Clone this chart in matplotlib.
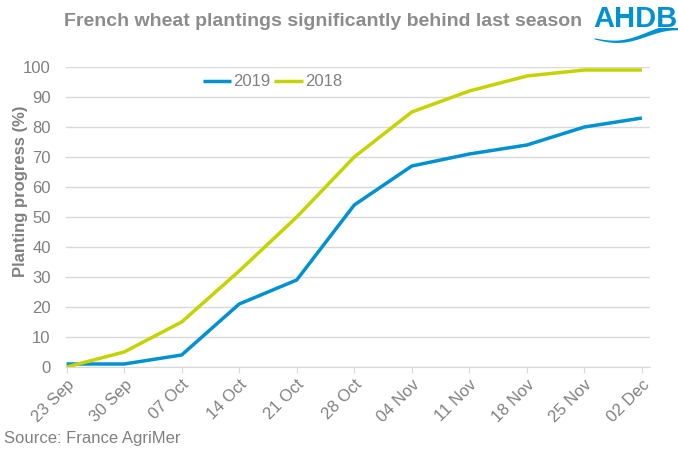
import matplotlib
matplotlib.use("Agg")
import matplotlib.pyplot as plt
import numpy as np

categories = ["23 Sep", "30 Sep", "07 Oct", "14 Oct", "21 Oct", "28 Oct",
              "04 Nov", "11 Nov", "18 Nov", "25 Nov", "02 Dec"]
s2019 = [1, 1, 4, 21, 29, 54, 67, 71, 74, 80, 83]
s2018 = [0, 5, 15, 32, 50, 70, 85, 92, 97, 99, 99]
yticks = [0, 10, 20, 30, 40, 50, 60, 70, 80, 90, 100]

plt.rcParams['font.family'] = ['Liberation Sans', 'DejaVu Sans']
gray = '#808080'
fig = plt.figure(figsize=(6.78, 4.53), dpi=100)
ax = fig.add_axes([66/678, 1-367/453, (650-66)/678, 300/453])
x = np.arange(len(categories))
ax.plot(x, s2019, color='#0091d2', lw=2.5, label='2019', solid_capstyle='butt')
ax.plot(x, s2018, color='#c5d400', lw=2.5, label='2018', solid_capstyle='butt')
ax.set_xlim(-0.01, 10.14)
ax.set_ylim(0, 100)
ax.set_yticks(yticks)
ax.set_xticks(x)
ax.set_xticklabels(categories, rotation=45, ha='right', rotation_mode='anchor')
ax.tick_params(axis='y', length=0, labelsize=12, colors=gray, pad=11)
ax.tick_params(axis='x', length=4, color='#d9d9d9', labelsize=12, colors=gray, pad=3)
ax.grid(axis='y', color='#d9d9d9', lw=1)
ax.set_axisbelow(True)
for s in ['top', 'right', 'left']:
    ax.spines[s].set_visible(False)
ax.spines['bottom'].set_color('#d9d9d9')
ax.set_ylabel('Planting progress (%)', fontsize=12, fontweight='bold', color=gray)
ax.yaxis.set_label_coords(-0.065, 0.585)
leg = ax.legend(loc='center left', bbox_to_anchor=(0.234, 0.95), ncol=2, frameon=False,
                fontsize=12, handlelength=1.7, handletextpad=0.12, columnspacing=0.25,
                labelcolor=gray, borderpad=0, borderaxespad=0)
fig.text(0.477, 1-22/453, 'French wheat plantings significantly behind last season',
         ha='center', va='center', fontsize=14, fontweight='bold', color='#8c8c8c')
fig.text(4/678, 1-438/453, 'Source: France AgriMer', ha='left', va='center', fontsize=12, color=gray)
# logo
fig.text(635/678, 1-19/453, 'AHDB', ha='center', va='center', fontsize=21, color='#0091d2',
         fontweight='bold', family=['Liberation Sans Narrow', 'Liberation Sans'])
lax = fig.add_axes([594/678, 1-46/453, 84/678, 18/453])
t = np.linspace(0, 1, 200)
center = 0.55 - 0.35*np.sin(np.pi*t*1.6) + 0.5*t
thick = 0.08 + 0.35*t
lax.fill_between(t, center - thick/2, center + thick/2, color='#0091d2', lw=0)
lax.set_xlim(0, 1); lax.set_ylim(0, 1.3)
lax.axis('off')
fig.savefig('out.png', dpi=100)
